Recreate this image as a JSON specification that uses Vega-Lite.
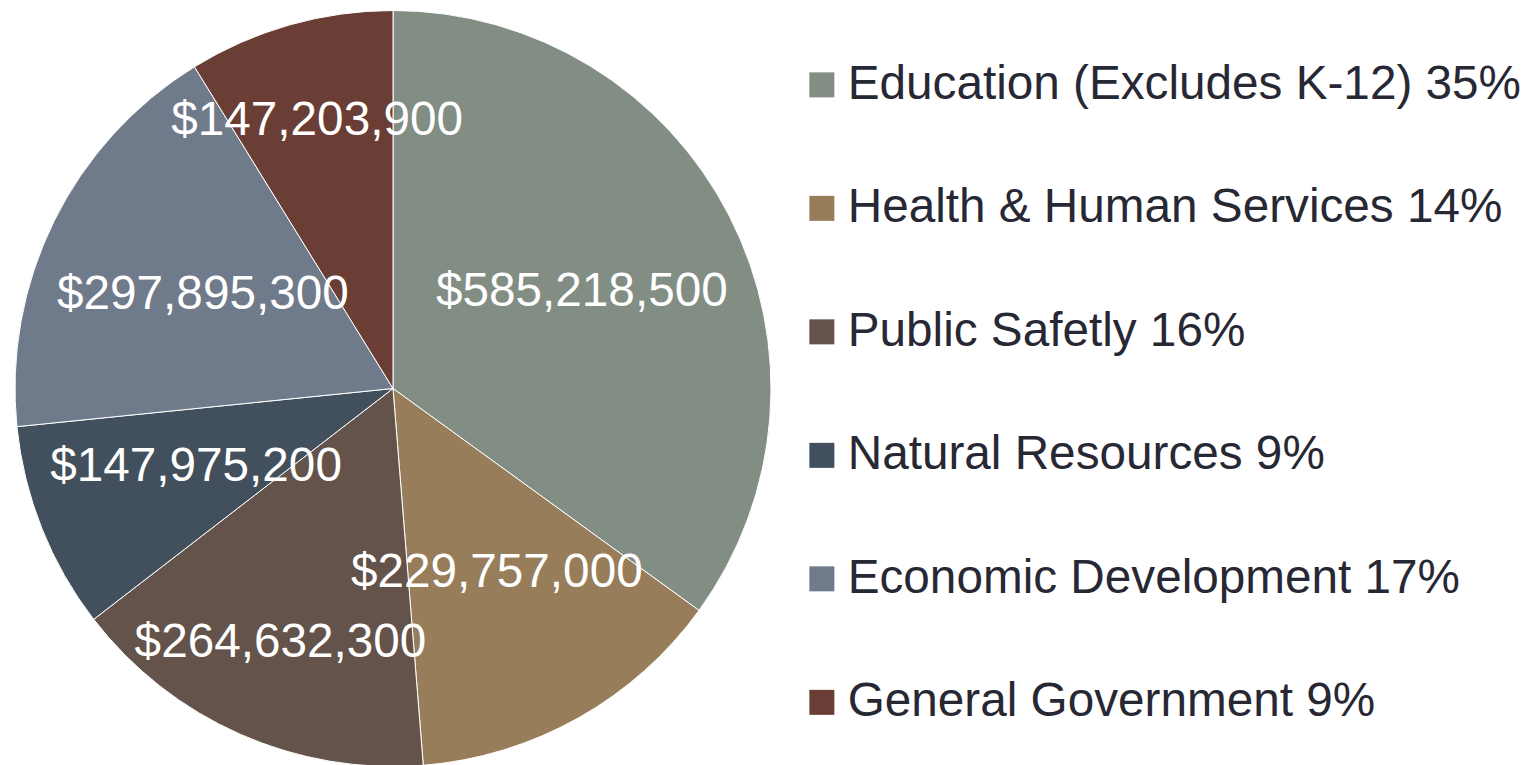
{
  "$schema": "https://vega.github.io/schema/vega-lite/v6.json",
  "width": 786,
  "height": 753,
  "autosize": {"type": "none"},
  "padding": {"left": 0, "top": 12, "right": 748, "bottom": 0},
  "background": "#ffffff",
  "config": {"view": {"stroke": null}, "font": "Liberation Sans"},
  "data": {
    "values": [
      {"category": "Education (Excludes K-12) 35%", "amount": 585218500, "label": "$585,218,500", "ord": 1},
      {"category": "Health & Human Services 14%", "amount": 229757000, "label": "$229,757,000", "ord": 2},
      {"category": "Public Safetly 16%", "amount": 264632300, "label": "$264,632,300", "ord": 3},
      {"category": "Natural Resources 9%", "amount": 147975200, "label": "$147,975,200", "ord": 4},
      {"category": "Economic Development 17%", "amount": 297895300, "label": "$297,895,300", "ord": 5},
      {"category": "General Government 9%", "amount": 147203900, "label": "$147,203,900", "ord": 6}
    ]
  },
  "encoding": {
    "theta": {"field": "amount", "type": "quantitative", "stack": true},
    "order": {"field": "ord", "type": "quantitative", "sort": "ascending"}
  },
  "layer": [
    {
      "mark": {"type": "arc", "outerRadius": 378, "stroke": "#ffffff", "strokeWidth": 1},
      "encoding": {
        "color": {
          "field": "category",
          "type": "nominal",
          "sort": {"field": "ord", "order": "ascending"},
          "scale": {
            "domain": ["Education (Excludes K-12) 35%", "Health & Human Services 14%", "Public Safetly 16%", "Natural Resources 9%", "Economic Development 17%", "General Government 9%"],
            "range": ["#828d84", "#977d5a", "#64534a", "#424f5c", "#6f7a8a", "#6a3e35"]
          },
          "legend": {
            "orient": "none",
            "legendX": 798,
            "legendY": 49,
            "title": null,
            "padding": 0,
            "symbolType": "square",
            "symbolSize": 625,
            "symbolStrokeWidth": 0,
            "symbolOpacity": 1,
            "labelFont": "Liberation Sans",
            "labelFontSize": 47.7,
            "labelColor": "#282834",
            "labelOffset": 2,
            "labelLimit": 0,
            "rowPadding": 74.5,
            "columns": 1
          }
        }
      }
    },
    {
      "mark": {
        "type": "text",
        "radius": {"expr": "datum.ord == 3 || datum.ord == 6 ? 278 : 212"},
        "fontSize": 47.7,
        "font": "Liberation Sans",
        "color": "#ffffff"
      },
      "encoding": {
        "text": {"field": "label", "type": "nominal"}
      }
    }
  ]
}
